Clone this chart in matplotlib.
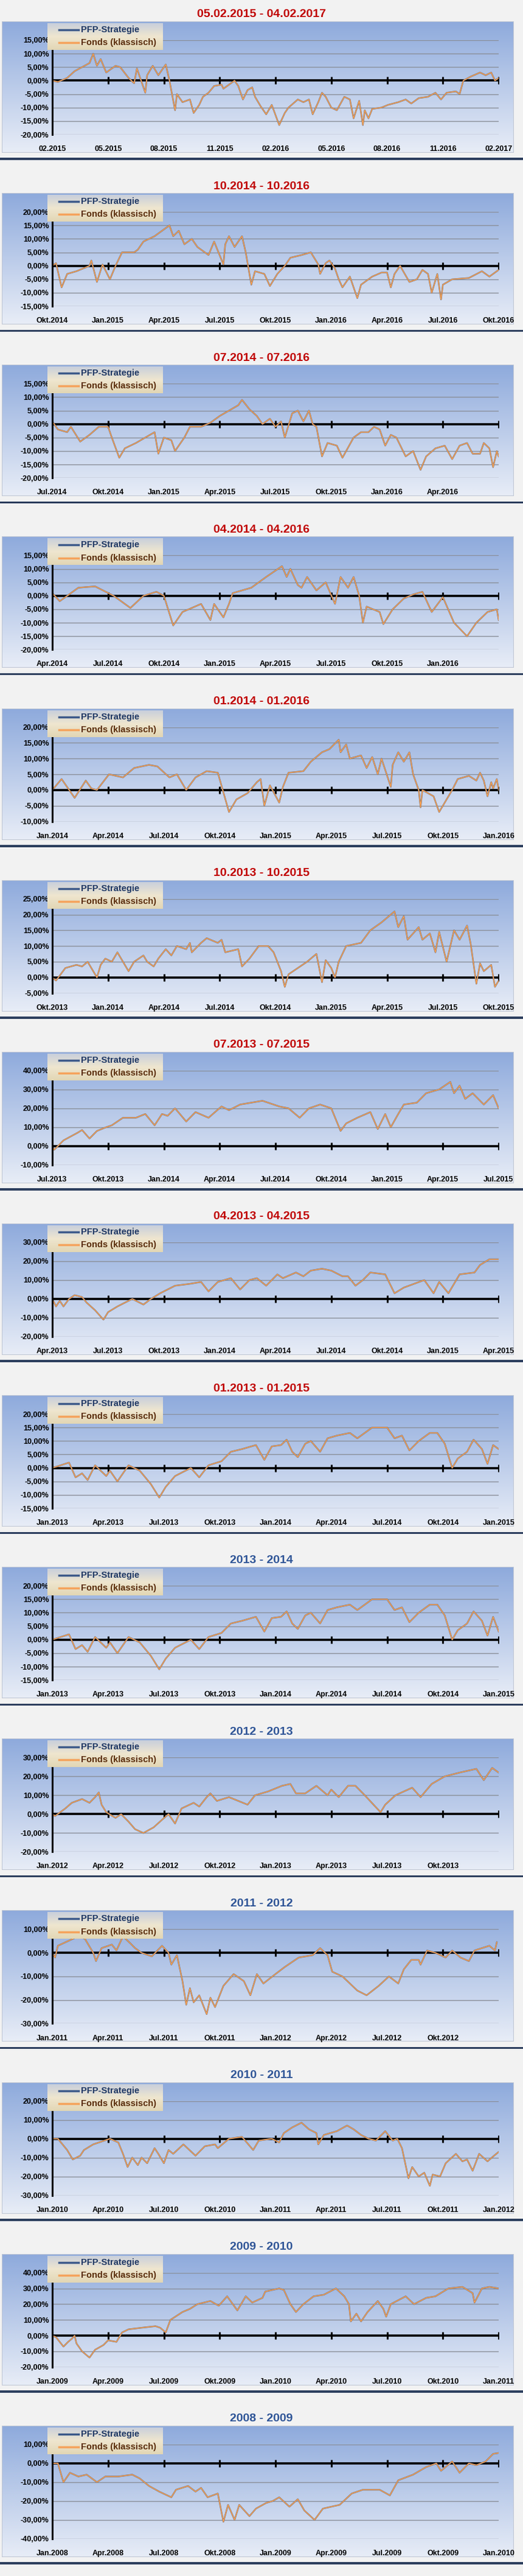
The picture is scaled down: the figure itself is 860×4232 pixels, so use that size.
import numpy as np
import matplotlib
matplotlib.use("Agg")
import matplotlib.pyplot as plt
from matplotlib.patches import Rectangle
from matplotlib.colors import LinearSegmentedColormap

FONT = ['Liberation Sans Narrow', 'Liberation Sans', 'DejaVu Sans']
plt.rcParams['font.family'] = FONT

titles = ["05.02.2015 - 04.02.2017", "10.2014 - 10.2016", "07.2014 - 07.2016", "04.2014 - 04.2016",
          "01.2014 - 01.2016", "10.2013 - 10.2015", "07.2013 - 07.2015", "04.2013 - 04.2015",
          "01.2013 - 01.2015", "2013 - 2014", "2012 - 2013", "2011 - 2012", "2010 - 2011",
          "2009 - 2010", "2008 - 2009"]
title_colors = ["#c00000"] * 9 + ["#2f5597"] * 6

xlabels_1 = ["02.2015", "05.2015", "08.2015", "11.2015", "02.2016", "05.2016", "08.2016", "11.2016", "02.2017"]
xlabels_2 = ["Okt.2014", "Jan.2015", "Apr.2015", "Jul.2015", "Okt.2015", "Jan.2016", "Apr.2016", "Jul.2016", "Okt.2016"]
xlabels_3 = ["Jul.2014", "Okt.2014", "Jan.2015", "Apr.2015", "Jul.2015", "Okt.2015", "Jan.2016", "Apr.2016", ""]
xlabels_4 = ["Apr.2014", "Jul.2014", "Okt.2014", "Jan.2015", "Apr.2015", "Jul.2015", "Okt.2015", "Jan.2016", ""]
xlabels_5 = ["Jan.2014", "Apr.2014", "Jul.2014", "Okt.2014", "Jan.2015", "Apr.2015", "Jul.2015", "Okt.2015", "Jan.2016"]
xlabels_6 = ["Okt.2013", "Jan.2014", "Apr.2014", "Jul.2014", "Okt.2014", "Jan.2015", "Apr.2015", "Jul.2015", "Okt.2015"]
xlabels_7 = ["Jul.2013", "Okt.2013", "Jan.2014", "Apr.2014", "Jul.2014", "Okt.2014", "Jan.2015", "Apr.2015", "Jul.2015"]
xlabels_8 = ["Apr.2013", "Jul.2013", "Okt.2013", "Jan.2014", "Apr.2014", "Jul.2014", "Okt.2014", "Jan.2015", "Apr.2015"]
xlabels_9 = ["Jan.2013", "Apr.2013", "Jul.2013", "Okt.2013", "Jan.2014", "Apr.2014", "Jul.2014", "Okt.2014", "Jan.2015"]
xlabels_10 = xlabels_9
xlabels_11 = ["Jan.2012", "Apr.2012", "Jul.2012", "Okt.2012", "Jan.2013", "Apr.2013", "Jul.2013", "Okt.2013", ""]
xlabels_12 = ["Jan.2011", "Apr.2011", "Jul.2011", "Okt.2011", "Jan.2012", "Apr.2012", "Jul.2012", "Okt.2012", ""]
xlabels_13 = ["Jan.2010", "Apr.2010", "Jul.2010", "Okt.2010", "Jan.2011", "Apr.2011", "Jul.2011", "Okt.2011", "Jan.2012"]
xlabels_14 = ["Jan.2009", "Apr.2009", "Jul.2009", "Okt.2009", "Jan.2010", "Apr.2010", "Jul.2010", "Okt.2010", "Jan.2011"]
xlabels_15 = ["Jan.2008", "Apr.2008", "Jul.2008", "Okt.2008", "Jan.2009", "Apr.2009", "Jul.2009", "Okt.2009", "Jan.2010"]

yticks_1 = [-20, -15, -10, -5, 0, 5, 10, 15]
yticks_2 = [-15, -10, -5, 0, 5, 10, 15, 20]
yticks_3 = [-20, -15, -10, -5, 0, 5, 10, 15]
yticks_4 = [-20, -15, -10, -5, 0, 5, 10, 15]
yticks_5 = [-10, -5, 0, 5, 10, 15, 20]
yticks_6 = [-5, 0, 5, 10, 15, 20, 25]
yticks_7 = [-10, 0, 10, 20, 30, 40]
yticks_8 = [-20, -10, 0, 10, 20, 30]
yticks_9 = [-15, -10, -5, 0, 5, 10, 15, 20]
yticks_10 = [-15, -10, -5, 0, 5, 10, 15, 20]
yticks_11 = [-20, -10, 0, 10, 20, 30]
yticks_12 = [-30, -20, -10, 0, 10]
yticks_13 = [-30, -20, -10, 0, 10, 20]
yticks_14 = [-20, -10, 0, 10, 20, 30, 40]
yticks_15 = [-40, -30, -20, -10, 0, 10]

# (month since start, performance %)
m_1 = [0, 0.3, 0.8, 1.2, 1.6, 2.0, 2.2, 2.4, 2.6, 2.9, 3.4, 3.65, 4.1, 4.4, 4.55, 5.0, 5.1, 5.4, 5.7, 6.1, 6.3, 6.6, 6.7, 7.0, 7.4, 7.6, 7.9, 8.1, 8.4, 8.7, 9.1, 9.2, 9.8, 10.0, 10.25, 10.5, 10.75, 10.9, 11.2, 11.5, 11.8, 12.2, 12.5, 12.7, 13.2, 13.5, 13.8, 14.0, 14.3, 14.5, 14.7, 15.0, 15.3, 15.7, 16.0, 16.2, 16.5, 16.7, 16.8, 17.0, 17.2, 17.7, 18.05, 18.6, 19.0, 19.3, 19.7, 20.2, 20.6, 20.9, 21.2, 21.7, 21.9, 22.1, 22.5, 23.0, 23.3, 23.6, 23.8, 24]
v_1 = [0, -0.5, 1, 3.5, 5, 6.5, 10, 5.5, 8, 3, 5.5, 5, 1, -1, 4.5, -4.5, 2, 5.5, 2, 6, 0, -11, -5, -8, -7, -12, -9, -6, -4.5, -2, -1.5, -3, 0, -2, -7, -3.5, -2.5, -6, -9.5, -12.5, -9, -16.5, -12, -10, -7, -8, -7, -12.5, -8, -4.5, -6, -10, -11, -6, -7, -14, -7.5, -16.5, -11, -14, -10.5, -10, -9, -8, -7, -8.5, -6.5, -6, -4.5, -7, -4.5, -4, -5, 0, 1.5, 3, 2, 3, 0, 1]
m_2 = [0, 0.2, 0.5, 0.8, 1.3, 2.0, 2.1, 2.4, 2.7, 3.1, 3.4, 3.75, 4.4, 4.6, 4.9, 5.5, 6.3, 6.5, 6.8, 7.1, 7.5, 7.8, 8.4, 8.7, 9.2, 9.3, 9.5, 9.8, 10.2, 10.4, 10.7, 10.9, 11.4, 11.7, 12.1, 12.5, 12.8, 13.4, 13.9, 14.3, 14.4, 14.7, 14.9, 15.2, 15.4, 15.6, 16.0, 16.4, 16.6, 17.2, 17.7, 18.0, 18.2, 18.4, 18.7, 19.2, 19.6, 19.9, 20.2, 20.4, 20.7, 20.9, 21.0, 21.5, 22.4, 23.1, 23.5, 24]
v_2 = [0, 1, -8, -3, -2, 0, 2, -6, 0.5, -5, 0, 5, 5, 6, 9, 11, 15, 11, 13, 8, 10, 7, 4, 9, 0.5, 8, 11, 7, 11, 5, -7, -2, -3, -7.5, -3, 0, 3, 4, 5, 0.5, -3, 1, 2, -1, -5, -8, -4, -12, -7, -4, -2.5, -2.5, -8, -3, 0, -6, -5, -1.5, -3, -10, -3, -12.5, -7, -5, -4.5, -2, -4, -1.5]
m_3 = [0, 0.3, 0.8, 1.0, 1.5, 2.0, 2.5, 3.0, 3.2, 3.6, 3.9, 4.5, 5.0, 5.5, 5.7, 6.0, 6.4, 6.6, 7.1, 7.4, 8.0, 8.5, 9.0, 9.5, 10.0, 10.2, 10.6, 11.0, 11.3, 11.7, 12.0, 12.3, 12.5, 12.9, 13.2, 13.5, 13.8, 14.0, 14.2, 14.5, 14.8, 15.3, 15.6, 16.2, 16.6, 17.0, 17.3, 17.6, 17.9, 18.2, 18.5, 19.0, 19.4, 19.8, 20.1, 20.6, 21.1, 21.5, 21.9, 22.3, 22.6, 23.0, 23.2, 23.5, 23.7, 23.9, 24]
v_3 = [1, -2, -3, -1, -6.5, -4, -1, -1, -5, -12.5, -9, -7, -5, -3, -11, -5, -6, -10, -5, -1, -1, 0.5, 3, 5, 7, 9, 5.5, 3, 0, 2, -1, 1, -5, 4, 5, 1, 5, 0, -1, -12, -7, -8, -12.5, -5, -3, -3, -1, -2, -8, -4, -5, -12, -10, -17, -12, -9, -8, -13, -8, -7, -11, -11, -7, -9, -16, -10, -12]
m_4 = [0, 0.4, 1.4, 2.3, 3.3, 4.2, 4.9, 5.6, 6.0, 6.5, 7.0, 8.0, 8.5, 8.7, 9.2, 9.5, 9.7, 10.7, 11.5, 12.35, 12.6, 12.8, 13.2, 13.4, 13.7, 14.2, 14.7, 15.2, 15.5, 15.9, 16.2, 16.5, 16.7, 16.9, 17.6, 17.8, 18.3, 18.9, 19.4, 19.9, 20.4, 21.0, 21.6, 22.3, 22.8, 23.4, 23.9, 24]
v_4 = [1, -2, 3, 3.5, 0, -4.5, 0, 1.5, 0, -11, -6, -3, -9, -3, -8, -3, 1, 3, 7, 11, 7, 10, 4, 3, 7, 2, 5, -3, 7, 3, 7, 0, -10, -4, -6, -10.5, -5, -1, 0.5, 1.5, -6, -0.5, -10, -15, -10, -6, -5, -9]
m_5 = [0, 0.5, 1.2, 1.8, 2.1, 2.4, 3.05, 3.8, 4.4, 5.2, 5.65, 6.3, 6.7, 7.2, 7.7, 8.3, 8.9, 9.5, 9.9, 10.5, 11.0, 11.2, 11.4, 11.7, 12.2, 12.4, 12.7, 13.5, 13.9, 14.5, 14.9, 15.4, 15.5, 15.8, 16.0, 16.6, 16.9, 17.2, 17.5, 17.7, 18.2, 18.3, 18.6, 18.9, 19.2, 19.4, 19.7, 19.8, 19.9, 20.5, 20.8, 21.1, 21.5, 21.8, 22.4, 22.8, 23.0, 23.2, 23.4, 23.6, 23.7, 23.9, 24]
v_5 = [0, 3.5, -2.5, 3, 0.5, 0, 5, 4, 7, 8, 7.5, 4, 5, 0, 4, 6, 5.5, -7, -3, -1, 2.5, 3.5, -5, 1.5, -4, 1, 5.5, 6, 9, 12, 13, 16, 12, 14.5, 10, 11, 7, 10.5, 5, 10, 1, 8, 12, 9, 12, 5, 0, -5.5, 0, -2, -7, -4, 0, 3.5, 4.5, 3, 5.5, 3, -2, 2.5, 0.5, 3.5, 0]
m_6 = [0, 0.2, 0.7, 1.3, 1.6, 1.9, 2.2, 2.4, 2.6, 2.85, 3.2, 3.5, 4.1, 4.4, 4.9, 5.1, 5.45, 5.7, 6.1, 6.4, 6.7, 7.2, 7.4, 7.5, 8.0, 8.3, 8.9, 9.1, 9.3, 10.0, 10.2, 10.6, 11.1, 11.6, 11.9, 12.3, 12.5, 12.7, 13.2, 13.7, 14.2, 14.5, 14.7, 15.0, 15.2, 15.4, 15.8, 16.6, 17.1, 17.7, 18.4, 18.6, 18.9, 19.1, 19.7, 19.9, 20.3, 20.6, 20.8, 21.2, 21.6, 21.9, 22.3, 22.5, 22.8, 23.0, 23.2, 23.6, 23.8, 24]
v_6 = [0, -1, 3, 4, 3.5, 5, 2, 0, 4, 6, 5, 8, 2, 5, 7, 5, 3.5, 6, 9, 7, 10, 9, 11, 8, 11, 12.5, 11, 12, 8, 9, 3.5, 6, 10, 10, 8, 2, -3, 1, 3, 5, 7.5, -1.5, 5.5, 3, 0, 5, 10, 11, 15, 17.5, 21, 16, 19.5, 12, 16, 12, 14, 8, 14.5, 5, 15, 12, 16.5, 10.5, -2, 4.5, 2, 4, -3, -1]
m_7 = [0, 0.1, 0.6, 1.35, 1.6, 2.0, 2.4, 2.9, 3.2, 3.8, 4.5, 5.0, 5.5, 5.9, 6.2, 6.6, 7.2, 7.7, 8.4, 9.1, 9.5, 10.1, 11.3, 12.2, 12.7, 13.3, 13.8, 14.4, 15.0, 15.5, 15.8, 16.4, 17.1, 17.5, 17.9, 18.2, 18.6, 18.9, 19.6, 20.1, 20.8, 21.4, 21.6, 21.9, 22.2, 22.6, 23.2, 23.7, 24]
v_7 = [0, -2, 3, 7, 8.5, 4, 8, 10, 11, 15, 15, 17, 11, 17, 16, 20, 13, 18, 15, 21, 19, 22, 24, 21, 20, 15, 20, 22, 20, 8, 12, 15, 18, 9, 17, 10, 17, 22, 23, 28, 30, 34, 28, 32, 25, 28, 22, 27, 20]
m_8 = [0, 0.2, 0.4, 0.6, 0.9, 1.2, 1.6, 1.85, 2.3, 2.75, 3.0, 3.5, 4.3, 4.9, 5.3, 5.8, 6.6, 7.4, 8.0, 8.4, 8.9, 9.6, 10.1, 10.6, 11.0, 11.5, 12.1, 12.4, 13.1, 13.5, 13.9, 14.5, 15.0, 15.6, 15.9, 16.3, 16.7, 17.1, 17.9, 18.4, 18.9, 20.0, 20.5, 20.8, 21.3, 21.6, 21.9, 22.7, 23.0, 23.5, 24]
v_8 = [0, -4, -1, -4, 0, 2, 1, -2, -6, -11, -7, -4, 0, -3, 0, 3, 7, 8, 9, 4, 9, 11, 5, 10, 11, 7, 13, 11, 14, 12, 15, 16, 15, 12, 12, 7, 10, 14, 13, 3, 6, 10, 3, 9, 3, 8, 13, 14, 18, 21, 21]
m_9 = [0, 0.9, 1.25, 1.6, 1.9, 2.3, 2.9, 3.1, 3.5, 4.1, 4.7, 5.3, 5.75, 6.1, 6.6, 7.45, 7.9, 8.4, 9.1, 9.6, 10.2, 10.95, 11.4, 11.8, 12.3, 12.6, 12.9, 13.2, 13.6, 13.9, 14.4, 14.8, 15.3, 16.0, 16.4, 17.2, 18.0, 18.4, 18.8, 19.2, 19.7, 20.3, 20.7, 21.1, 21.5, 21.8, 22.3, 22.65, 23.1, 23.4, 23.7, 24]
v_9 = [0, 2, -3.5, -2, -4.5, 1, -3, -1, -5, 1, -1, -6, -11, -7, -3, 0, -3.5, 1, 2.5, 6, 7, 8.5, 3, 8, 8.5, 10.5, 6, 4, 9, 10, 6, 11, 12, 13, 11, 15, 15, 11, 12, 6.5, 10, 13, 13, 9, 0, 3.5, 6, 10.5, 7, 1.5, 8.5, 7]
m_10 = list(m_9)
v_10 = v_9[:-1] + [3]
m_11 = [0, 0.15, 0.7, 1.05, 1.6, 2.0, 2.3, 2.5, 2.65, 2.9, 3.4, 3.7, 4.1, 4.45, 4.9, 5.45, 5.9, 6.25, 6.6, 6.95, 7.6, 7.9, 8.3, 8.5, 8.85, 9.5, 10.5, 10.9, 11.6, 12.35, 12.8, 13.1, 13.6, 14.2, 14.8, 15.0, 15.4, 15.9, 16.3, 16.8, 17.65, 17.9, 18.45, 19.35, 19.8, 20.4, 21.1, 21.9, 22.8, 23.2, 23.65, 24]
v_11 = [0, -1, 3, 6, 8, 6, 9, 11.5, 5, 1, -2, 0, -4, -8, -10, -7, -3, 0, -5, 3, 6, 4, 9, 11, 7, 9, 5, 10, 12, 15, 16, 11, 11, 15, 10, 13, 9, 15, 15, 10, 1, 5, 10, 14, 9, 16, 20, 22, 24, 18, 24.5, 22]
m_12 = [0, 0.15, 0.3, 0.85, 1.4, 1.75, 2.2, 2.35, 2.65, 3.2, 3.45, 3.8, 4.2, 4.45, 4.8, 5.35, 5.9, 6.25, 6.4, 6.7, 7.0, 7.2, 7.4, 7.6, 7.9, 8.3, 8.5, 8.75, 9.2, 9.75, 10.3, 10.65, 11.0, 11.35, 12.0, 12.5, 13.25, 14.0, 14.4, 14.8, 15.05, 15.6, 16.4, 16.9, 17.55, 18.1, 18.6, 18.9, 19.3, 19.7, 19.8, 20.15, 20.6, 21.15, 21.5, 21.95, 22.4, 22.7, 23.5, 23.8, 23.9]
v_12 = [0, -2, 3, 5, 7, 6, 0, -3.5, 2, 3.5, 1, 7, 4, 2, 0, -1.5, 3, 0, -5, -1, -12, -22, -15, -21, -18, -26, -19, -23, -14, -9, -12, -18, -9, -13, -9, -6, -2, -1, 2, -1, -8, -10, -16, -18, -14, -10, -13, -7, -3, -3, -5, 1, 0, -2, 1, -2, -3.5, 1, 3, 1, 4.5]
m_13 = [0, 0.3, 0.8, 1.1, 1.5, 1.7, 2.2, 3.1, 3.55, 3.8, 4.05, 4.3, 4.6, 4.8, 5.1, 5.5, 5.7, 6.0, 6.25, 6.5, 7.05, 7.7, 8.2, 8.75, 8.9, 9.5, 10.2, 10.8, 11.1, 11.8, 12.2, 12.45, 12.9, 13.4, 13.8, 14.2, 14.3, 14.6, 15.3, 15.85, 16.2, 16.6, 17.0, 17.4, 17.9, 18.3, 18.55, 18.8, 19.15, 19.35, 19.7, 20.0, 20.3, 20.45, 20.85, 21.15, 21.7, 22.05, 22.3, 22.6, 22.95, 23.4, 23.75, 24]
v_13 = [0, 0, -6, -11, -9, -6, -3, 0, -2, -8, -15, -10, -14, -10, -13, -5, -8, -13, -6, -8, -3, -9, -4, -3, -5, 0, 1, -6, -1, 0, -2, 3, 6, 8.5, 5, 3, -3, 2, 4, 7, 5, 2, 0, -1, 4, -1, 0, -5, -21, -15, -20, -18, -25, -19, -20, -13, -8, -12, -11, -17, -8, -12, -9, -7]
m_14 = [0, 0.2, 0.6, 0.85, 1.05, 1.2, 1.3, 1.6, 2.0, 2.3, 2.75, 3.0, 3.45, 3.75, 4.1, 4.8, 5.55, 5.8, 6.1, 6.35, 7.0, 7.4, 7.8, 8.5, 8.95, 9.4, 9.95, 10.4, 10.75, 11.3, 11.45, 12.2, 12.45, 12.8, 13.1, 13.5, 14.05, 14.6, 15.25, 15.7, 15.95, 16.05, 16.35, 16.6, 16.95, 17.5, 17.8, 17.95, 18.2, 19.0, 19.45, 20.1, 20.6, 21.3, 22.05, 22.6, 22.7, 23.1, 23.5, 24]
v_14 = [0, -1, -7, -4, -2, 0, -5, -10, -14, -9, -6, -3, -4, 2, 4, 5, 6, 5, 2, 10, 15, 17, 20, 22, 19, 25, 16, 25, 21, 24, 28, 30, 29, 20, 15, 20, 25, 26, 30, 25, 20, 9, 14, 9, 15, 22, 17, 12, 20, 25, 20, 24, 25, 30, 31, 27, 21, 30, 31, 30]
m_15 = [0, 0.3, 0.6, 0.95, 1.4, 1.85, 2.4, 2.85, 3.55, 4.3, 4.7, 5.2, 5.75, 6.4, 6.65, 7.3, 7.7, 8.0, 8.35, 8.9, 9.2, 9.45, 9.8, 10.05, 10.6, 10.95, 11.5, 11.85, 12.2, 12.75, 13.2, 13.55, 14.1, 14.55, 15.45, 16.1, 16.7, 17.6, 18.15, 18.6, 19.4, 20.1, 20.65, 20.9, 21.5, 21.9, 22.4, 22.8, 23.3, 23.7, 24]
v_15 = [0, 0, -10, -5, -7, -6, -10, -7, -7, -6, -8, -12, -15, -18, -14, -12, -15, -13, -18, -16, -31, -22, -30, -22, -28, -24, -21, -20, -18, -23, -19, -25, -30, -24, -22, -16, -14, -14, -17, -9, -6, -2, 0, -4, 1, -5, 0, -1, 1, 5, 5.5]

months = [m_1, m_2, m_3, m_4, m_5, m_6, m_7, m_8, m_9, m_10, m_11, m_12, m_13, m_14, m_15]
values = [v_1, v_2, v_3, v_4, v_5, v_6, v_7, v_8, v_9, v_10, v_11, v_12, v_13, v_14, v_15]
xlabels = [xlabels_1, xlabels_2, xlabels_3, xlabels_4, xlabels_5, xlabels_6, xlabels_7, xlabels_8,
           xlabels_9, xlabels_10, xlabels_11, xlabels_12, xlabels_13, xlabels_14, xlabels_15]
yticks = [yticks_1, yticks_2, yticks_3, yticks_4, yticks_5, yticks_6, yticks_7, yticks_8,
          yticks_9, yticks_10, yticks_11, yticks_12, yticks_13, yticks_14, yticks_15]

W, Hf = 860, 4232
fig = plt.figure(figsize=(W / 100, Hf / 100), dpi=100)
fig.patch.set_facecolor("#f2f2f2")
PH = Hf / 15.0

def rect(x0, y0, x1, y1):
    return [x0 / W, 1 - y1 / Hf, (x1 - x0) / W, (y1 - y0) / Hf]

grad = np.linspace(0, 1, 256).reshape(-1, 1)
cm_blue = LinearSegmentedColormap.from_list("b", ["#8eaadc", "#e8edf7"])
cm_beige = LinearSegmentedColormap.from_list("g", ["#c8cfdc", "#efe6cf", "#e2d6b4"])

for i in range(15):
    top = i * PH
    fig.text(0.5, 1 - (top + 24) / Hf, titles[i], ha="center", va="center", fontsize=14,
             fontweight="bold", color=title_colors[i])
    bax = fig.add_axes(rect(3, top + 35, 845, top + 251))
    bax.imshow(grad, aspect="auto", cmap=cm_blue, extent=[0, 1, 0, 1], origin="upper")
    bax.set_axis_off()
    bax.add_patch(Rectangle((0, 0), 1, 1, fill=False, ec="#bfc6d4", lw=1.5, transform=bax.transAxes))
    fig.add_artist(Rectangle((0, 1 - (top + 263) / Hf), 1, 3.5 / Hf, transform=fig.transFigure,
                             color="#2d3f5e", lw=0))

    yt = yticks[i]
    ax = fig.add_axes(rect(86, top + 66, 820, top + 221))
    ax.patch.set_alpha(0)
    ax.set_xlim(0, 24)
    ax.set_ylim(yt[0], yt[-1])
    for y in yt:
        if y != 0:
            ax.axhline(y, color="#8a8f99", lw=1.0, zorder=1)
    ax.axhline(0, color="black", lw=2.6, zorder=2)
    ticks = np.arange(0, 25, 3)
    ax.plot(ticks, np.zeros_like(ticks), ls="none", marker="|", ms=9, mew=2.2, color="black", zorder=2)
    ax.plot(months[i], values[i], color="#4a5d7e", lw=1.7, zorder=3)
    ax.plot(months[i], values[i], color="#f7a052", lw=1.2, zorder=4)
    for s in ["top", "right", "bottom"]:
        ax.spines[s].set_visible(False)
    ax.spines["left"].set_linewidth(2.2)
    ax.spines["left"].set_zorder(5)
    ax.set_yticks(yt)
    ax.set_yticklabels([f"{y:.2f}".replace(".", ",") + "%" for y in yt], fontsize=9, fontweight="bold")
    ax.set_xticks(ticks)
    ax.set_xticklabels(xlabels[i], fontsize=9, fontweight="bold")
    ax.tick_params(axis="both", length=0)
    ax.tick_params(axis="x", pad=13)
    ax.tick_params(axis="y", pad=4)

    lax = fig.add_axes(rect(78, top + 38, 268, top + 82))
    lax.imshow(grad, aspect="auto", cmap=cm_beige, extent=[0, 1, 0, 1], origin="upper")
    lax.set_xlim(0, 1); lax.set_ylim(0, 1)
    lax.set_axis_off()
    lax.plot([0.1, 0.27], [0.75, 0.75], color="#3d5a8a", lw=2.5)
    lax.plot([0.1, 0.27], [0.27, 0.27], color="#f5a35c", lw=2.5)
    lax.text(0.29, 0.75, "PFP-Strategie", va="center", fontsize=10.5, fontweight="bold", color="#1f3864")
    lax.text(0.29, 0.27, "Fonds (klassisch)", va="center", fontsize=10.5, fontweight="bold", color="#5a2d0c")

fig.savefig("out.png", dpi=100, facecolor=fig.get_facecolor())
